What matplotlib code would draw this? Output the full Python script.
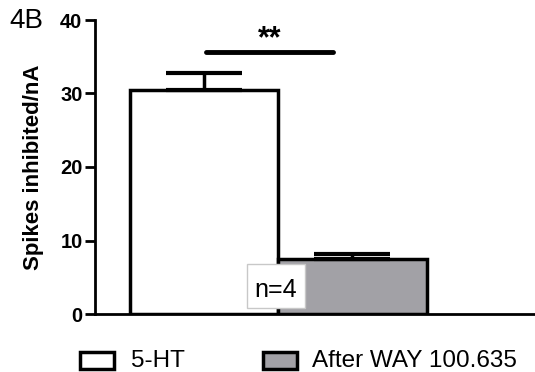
import matplotlib.pyplot as plt
from matplotlib.patches import Rectangle

plt.rcParams['font.family'] = ['Liberation Sans', 'DejaVu Sans']

# data
groups = ['5-HT', 'After WAY 100.635']
means = [30.5, 7.5]
sem = [2.3, 0.65]
colors = ['white', '#a2a1a6']
n_label = 'n=4'
sig_label = '**'

W, H = 535, 372
fig = plt.figure(figsize=(W / 100, H / 100), dpi=100)
ax = fig.add_axes([95 / W, 1 - 314 / H, 1 - 95 / W, (314 - 20) / H])

x = [0, 1]
for xi, m, s, c in zip(x, means, sem, colors):
    ax.bar(xi, m, width=1.0, color=c, edgecolor='black', linewidth=2.5, zorder=2)
    ax.errorbar(xi, m, yerr=[[0], [s]], fmt='none', ecolor='black',
                elinewidth=2.5, capsize=27.5, capthick=3, zorder=3)

# significance bar
ax.plot([0.013, 0.869], [35.65, 35.65], color='black', lw=3.5, solid_capstyle='round')
ax.text(0.44, 36.3, sig_label, ha='center', va='baseline', fontsize=22, fontweight='bold')

ax.set_xlim(-0.734, 2.229)
ax.set_ylim(0, 40)
ax.set_yticks([0, 10, 20, 30, 40])
ax.set_xticks([])
for side in ['top', 'right']:
    ax.spines[side].set_visible(False)
ax.spines['left'].set_linewidth(2)
ax.spines['bottom'].set_linewidth(2)
ax.tick_params(axis='y', width=2, length=7, labelsize=14.5, pad=2)
for lbl in ax.get_yticklabels():
    lbl.set_fontweight('bold')
ax.set_ylabel('Spikes inhibited/nA', fontsize=16, fontweight='bold')
ax.yaxis.set_label_coords(-0.117, 0.5)

# n label box
ax.add_patch(Rectangle((0.29, 0.82), 0.39, 6.0, facecolor='white',
                       edgecolor='#c8c8c8', lw=1, zorder=4))
ax.text(0.481, 2.31, n_label, ha='center', va='baseline', fontsize=18, zorder=5)

fig.text(9 / W, 1 - 28 / H, '4B', fontsize=20, va='baseline')

# legend drawn at pixel positions
legend_boxes = [80, 263]
text_x = [131, 312]
for bx, tx, c, g in zip(legend_boxes, text_x, colors, groups):
    fig.patches.append(Rectangle((bx / W, 1 - 369 / H), 34 / W, 17 / H,
                                 facecolor=c, edgecolor='black', lw=2.5,
                                 transform=fig.transFigure, figure=fig))
    fig.text(tx / W, 1 - 367 / H, g, fontsize=17.5, va='baseline')

fig.savefig('out.png', dpi=100)
